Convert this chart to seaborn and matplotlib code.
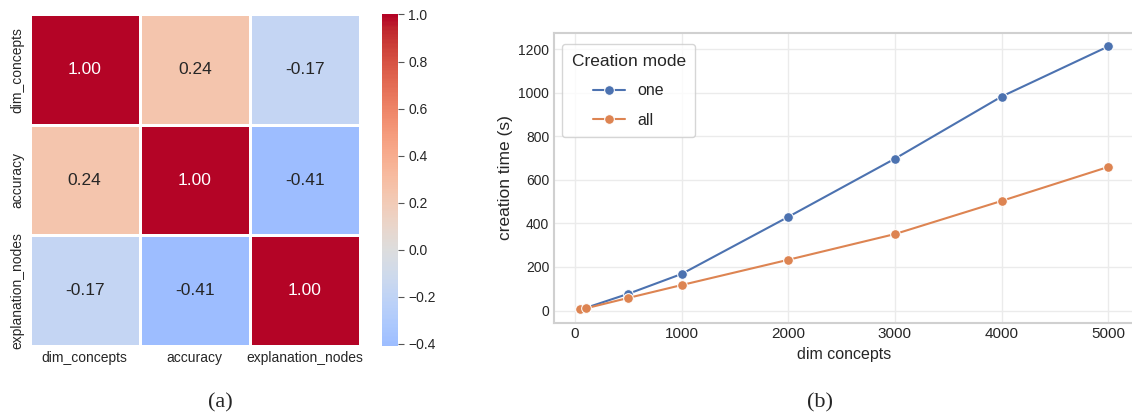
import pandas as pd
import matplotlib
matplotlib.use("Agg")
import matplotlib.pyplot as plt
import seaborn as sns

# correlation matrix (panel a)
var_names = ["dim_concepts", "accuracy", "explanation_nodes"]
corr_dim = [1.00, 0.24, -0.17]
corr_acc = [0.24, 1.00, -0.41]
corr_nodes = [-0.17, -0.41, 1.00]

# creation time (panel b)
dim_concepts = [50, 100, 500, 1000, 2000, 3000, 4000, 5000]
time_one = [6, 12, 77, 168, 430, 697, 982, 1212]
time_all = [5, 10, 58, 117, 233, 351, 503, 659]


def build_frames():
    corr = pd.DataFrame([corr_dim, corr_acc, corr_nodes], index=var_names, columns=var_names)
    times = pd.DataFrame({
        "dim concepts": dim_concepts * 2,
        "creation time (s)": time_one + time_all,
        "Creation mode": ["one"] * len(dim_concepts) + ["all"] * len(dim_concepts),
    })
    return corr, times


def main():
    sns.set_theme(style="whitegrid")
    plt.rcParams["font.family"] = ["Liberation Sans", "DejaVu Sans"]
    corr, times = build_frames()

    W, H = 1132, 419
    fig = plt.figure(figsize=(W / 100, H / 100), dpi=100)
    ax_hm = fig.add_axes([29.5 / W, 1 - 346 / H, 330.5 / W, 331.5 / H])
    cax = fig.add_axes([382 / W, 1 - 346 / H, 16 / W, 331.5 / H])
    ax_ln = fig.add_axes([554 / W, 1 - 322.6 / H, 580.6 / W, 289.3 / H])

    # heatmap
    sns.heatmap(corr, annot=True, fmt=".2f", cmap="coolwarm", center=0,
                linewidths=1, linecolor="white", ax=ax_hm, cbar_ax=cax,
                annot_kws={"size": 12.5})
    ax_hm.tick_params(axis="both", labelsize=10, length=0)
    ax_hm.set_xlabel("")
    ax_hm.set_ylabel("")
    cax.tick_params(labelsize=10, right=True, length=4, width=0.8, color="#555555")
    cax.set_yticks([-0.4, -0.2, 0.0, 0.2, 0.4, 0.6, 0.8, 1.0])

    # lines
    sns.lineplot(data=times, x="dim concepts", y="creation time (s)",
                 hue="Creation mode", marker="o", markersize=7, ax=ax_ln)
    ax_ln.set_xticks([0, 1000, 2000, 3000, 4000, 5000])
    ax_ln.set_yticks([0, 200, 400, 600, 800, 1000, 1200])
    ax_ln.tick_params(axis="x", labelsize=11, length=0)
    ax_ln.tick_params(axis="y", labelsize=10, length=0)
    ax_ln.xaxis.label.set_size(11.5)
    ax_ln.yaxis.label.set_size(12.5)
    ax_ln.grid(color="#ebebeb")
    for s in ax_ln.spines.values():
        s.set_color("#d0d0d0")
        s.set_linewidth(1.5)
    ax_ln.legend(title="Creation mode", loc="upper left", fontsize=11.5,
                 title_fontsize=12.5, labelspacing=0.9, borderpad=0.6,
                 bbox_to_anchor=(0.0, 0.99))

    # captions
    fig.text(220 / W, 1 - 403 / H, "(a)", ha="center", va="center",
             family="Liberation Serif", size=16)
    fig.text(820 / W, 1 - 403 / H, "(b)", ha="center", va="center",
             family="Liberation Serif", size=16)

    fig.savefig("out.png", dpi=100)


if __name__ == "__main__":
    main()
